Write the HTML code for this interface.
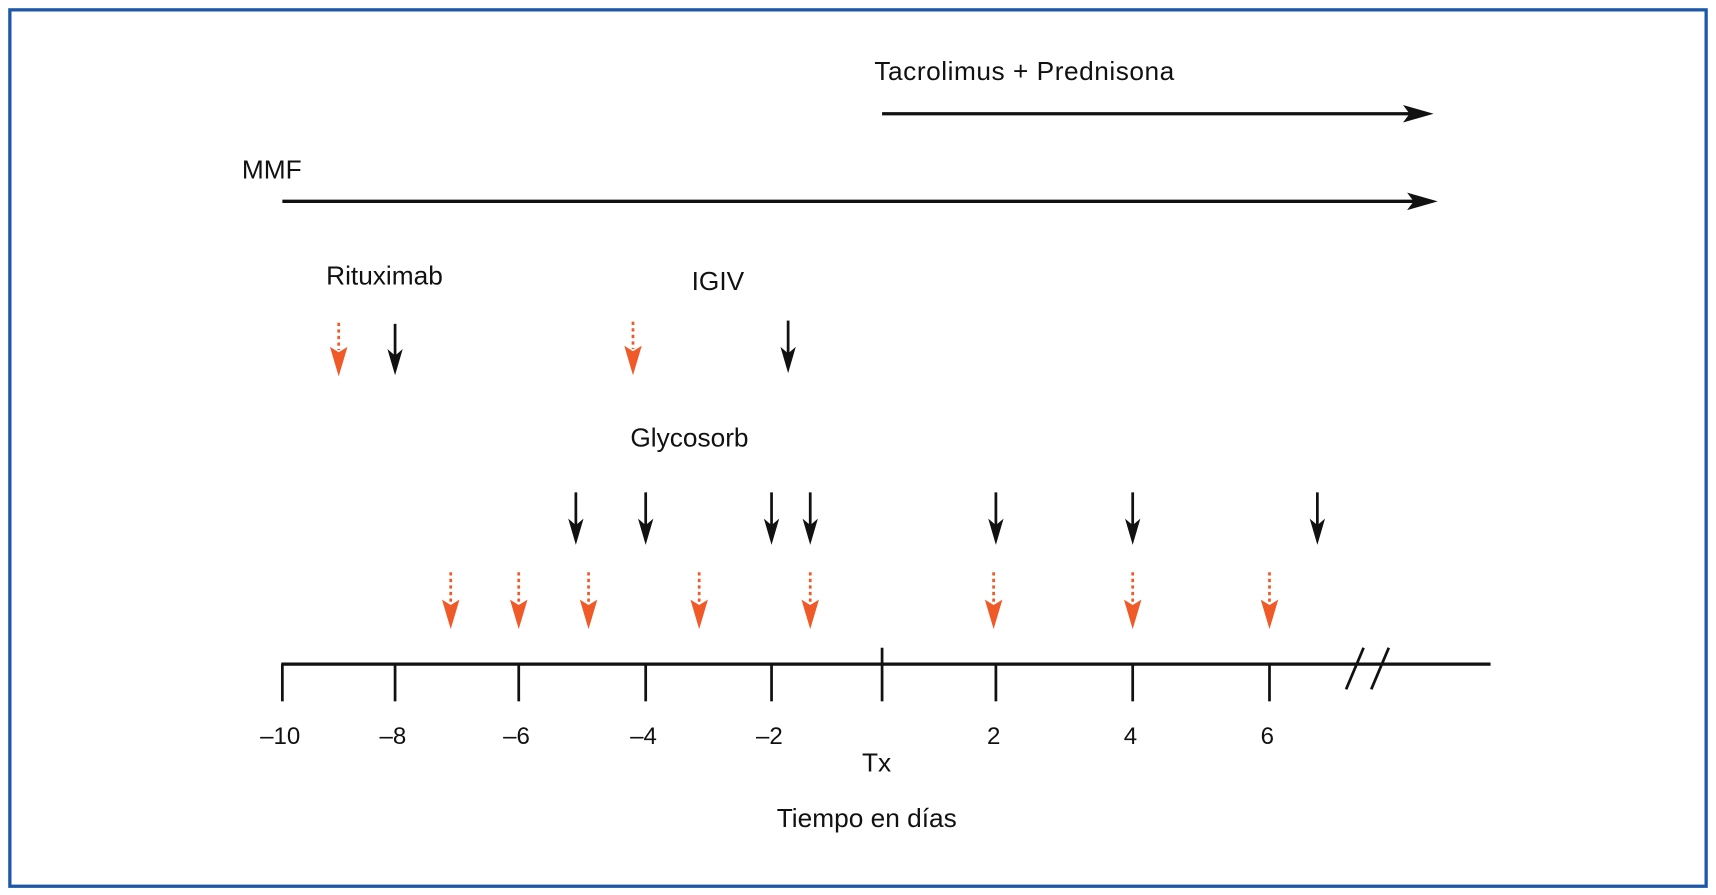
<!DOCTYPE html>
<html><head><meta charset="utf-8"><style>
html,body{margin:0;padding:0;background:#fff;}
svg{display:block;}
text{font-family:"Liberation Sans",sans-serif;fill:#111;font-size:22px;}
.lbl{font-size:24px;}
</style></head><body>
<svg id="chart" width="1716" height="895" viewBox="0 0 1568 818" preserveAspectRatio="none" xmlns="http://www.w3.org/2000/svg">
<rect x="9" y="9" width="1550" height="801" fill="#fff" stroke="#1d57a8" stroke-width="3"/>
<text class="lbl" x="799" y="73" textLength="274">Tacrolimus + Prednisona</text>
<text class="lbl" x="221" y="163">MMF</text>
<text class="lbl" x="298" y="260">Rituximab</text>
<text class="lbl" x="632" y="265">IGIV</text>
<text class="lbl" x="576" y="408">Glycosorb</text>
<text class="lbl" x="801" y="705" text-anchor="middle">Tx</text>
<text class="lbl" x="792" y="756" text-anchor="middle">Tiempo en días</text>
<g id="marks"></g>
</svg>
<script>
// axis knots (day -> position): the drawn axis is not uniformly spaced
const tickDays = [-10, -8, -6, -4, -2, 0, 2, 4, 6];
const tickLabels = ["\u201310", "\u20138", "\u20136", "\u20134", "\u20132", "", "2", "4", "6"];
const axisKnotPx = [258, 361, 474, 590, 705, 806, 910, 1035, 1160];
const rituximabOrange = [-9.0];
const rituximabBlack = [-8];
const igivOrange = [-4.2];
const igivBlack = [-1.7];
const glycoBlack = [-5.1, -4, -2, -1.3, 2, 4, 6.7];
const glycoOrange = [-7.1, -6, -4.9, -3.15, -1.3, 1.96, 4, 6];
const mmfRange = [-10, 8.46];
const tacroRange = [0, 8.4];

function xs(d){
  const k = axisKnotPx, t = tickDays;
  let i = 0;
  if (d <= t[0]) i = 0;
  else if (d >= t[t.length-1]) i = t.length-2;
  else { while (d > t[i+1]) i++; }
  return k[i] + (d - t[i]) * (k[i+1]-k[i]) / (t[i+1]-t[i]);
}
const NS = "http://www.w3.org/2000/svg";
const g = document.getElementById('marks');
function mk(tag, attrs){
  const e = document.createElementNS(NS, tag);
  for (const a in attrs) e.setAttribute(a, attrs[a]);
  g.appendChild(e);
  return e;
}
let el = mk('line',{x1:257,y1:607,x2:1362,y2:607,stroke:'#111','stroke-width':3});


tickDays.forEach((d,i)=>{
  const x = xs(d);
  const t = mk('line',{x1:x,y1:d===0?592:607,x2:x,y2:641,stroke:'#111','stroke-width':2.5});
  
  
  if (tickLabels[i]) {
    const tx = mk('text',{x:x-2,y:680,'text-anchor':'middle','font-size':23});
    tx.textContent = tickLabels[i];
    
    
  }
});
[[1230,1246],[1253,1269]].forEach(p=>{
  const b = mk('line',{x1:p[0],y1:630,x2:p[1],y2:592,stroke:'#111','stroke-width':2.5});
  
  
});
function hArrow(r, y, name){
  const x1 = xs(r[0]), x2 = xs(r[1]);
  const l = mk('line',{x1:x1,y1:y,x2:x2-20,y2:y,stroke:'#111','stroke-width':3});
  
  
  const h = mk('path',{d:`M${x2},${y} L${x2-28},${y-8} L${x2-22},${y} L${x2-28},${y+8} Z`,fill:'#111'});
  
  
}
hArrow(tacroRange, 104, 'tacrolimus-arrow');
hArrow(mmfRange, 184, 'mmf-arrow');
function blackArrow(d, top, tip, name){
  const x = xs(d);
  const l = mk('line',{x1:x,y1:top,x2:x,y2:tip-14,stroke:'#111','stroke-width':2.5});
  
  
  const h = mk('path',{d:`M${x},${tip} L${x-7},${tip-24} L${x},${tip-18} L${x+7},${tip-24} Z`,fill:'#111'});
  
  
}
function orangeArrow(d, top, tip, name){
  const x = xs(d);
  const l = mk('line',{x1:x,y1:top,x2:x,y2:tip-24,stroke:'#f05a28','stroke-width':2.5,'stroke-dasharray':'3,3'});
  
  
  const h = mk('path',{d:`M${x},${tip} L${x-8},${tip-27} L${x},${tip-22} L${x+8},${tip-27} Z`,fill:'#f05a28'});
  
  
}
rituximabOrange.forEach(d=>orangeArrow(d,295,344,'rituximab-orange-arrow'));
rituximabBlack.forEach(d=>blackArrow(d,296,343,'rituximab-black-arrow'));
igivOrange.forEach(d=>orangeArrow(d,294,343,'igiv-orange-arrow'));
igivBlack.forEach(d=>blackArrow(d,293,341,'igiv-black-arrow'));
glycoBlack.forEach(d=>blackArrow(d,450,498,'glycosorb-black-arrow'));
glycoOrange.forEach(d=>orangeArrow(d,523,575,'glycosorb-orange-arrow'));
</script>
</body></html>
